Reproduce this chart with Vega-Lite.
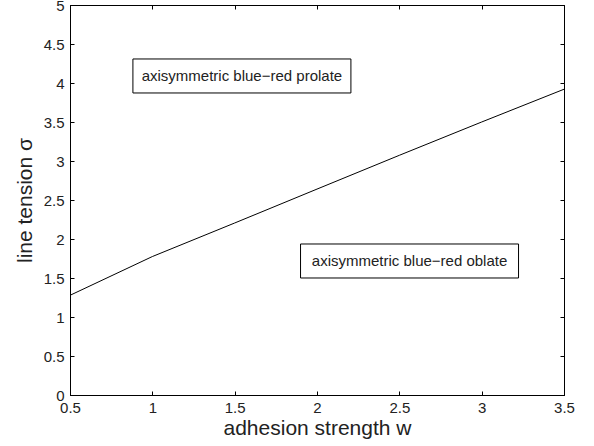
{
  "$schema": "https://vega.github.io/schema/vega-lite/v6.json",
  "width": 494,
  "height": 390,
  "autosize": {"type": "none"},
  "padding": {"left": 70, "top": 5, "right": 30, "bottom": 51},
  "background": "white",
  "config": {
    "font": "Liberation Sans",
    "view": {"stroke": "black", "strokeWidth": 1},
    "axis": {
      "grid": false,
      "domainColor": "black",
      "domainWidth": 1,
      "tickColor": "black",
      "tickWidth": 1,
      "tickSize": -4,
      "labelFlush": false,
      "labelOverlap": false,
      "labelFont": "Liberation Sans",
      "labelFontSize": 15,
      "labelColor": "#222",
      "titleFont": "Liberation Sans",
      "titleFontSize": 21,
      "titleFontWeight": "normal",
      "titleColor": "#222"
    }
  },
  "datasets": {
    "curve": [
      {"w": 0.5, "sigma": 1.278},
      {"w": 1.0, "sigma": 1.775},
      {"w": 1.5, "sigma": 2.205},
      {"w": 2.0, "sigma": 2.64},
      {"w": 2.5, "sigma": 3.073},
      {"w": 3.0, "sigma": 3.50},
      {"w": 3.5, "sigma": 3.92}
    ],
    "regions": [
      {"w": 1.544, "sigma": 4.09, "label": "axisymmetric blue−red prolate"},
      {"w": 2.562, "sigma": 1.718, "label": "axisymmetric blue−red oblate"}
    ]
  },
  "layer": [
    {
      "data": {"name": "curve"},
      "mark": {"type": "line", "color": "black", "strokeWidth": 1},
      "encoding": {
        "x": {
          "field": "w", "type": "quantitative",
          "scale": {"domain": [0.5, 3.5], "nice": false, "zero": false},
          "axis": {
            "orient": "bottom",
            "title": "adhesion strength w",
            "values": [0.5, 1, 1.5, 2, 2.5, 3, 3.5],
            "format": "~g",
            "labelPadding": 9,
            "titlePadding": 2
          }
        },
        "y": {
          "field": "sigma", "type": "quantitative",
          "scale": {"domain": [0, 5], "nice": false, "zero": false},
          "axis": {
            "orient": "left",
            "title": "line tension σ",
            "values": [0, 0.5, 1, 1.5, 2, 2.5, 3, 3.5, 4, 4.5, 5],
            "format": "~g",
            "labelPadding": 10,
            "titlePadding": 8
          }
        }
      }
    },
    {
      "data": {"name": "curve"},
      "mark": {"type": "line", "opacity": 0},
      "encoding": {
        "x": {
          "field": "w", "type": "quantitative",
          "axis": {"orient": "top", "title": null, "labels": false, "values": [0.5, 1, 1.5, 2, 2.5, 3, 3.5]}
        },
        "y": {
          "field": "sigma", "type": "quantitative",
          "axis": {"orient": "right", "title": null, "labels": false, "values": [0, 0.5, 1, 1.5, 2, 2.5, 3, 3.5, 4, 4.5, 5]}
        }
      }
    },
    {
      "data": {"name": "regions"},
      "mark": {"type": "rect", "width": 218, "height": 34, "fill": "white", "stroke": "black", "strokeWidth": 1},
      "encoding": {
        "x": {"field": "w", "type": "quantitative", "axis": null},
        "y": {"field": "sigma", "type": "quantitative", "axis": null}
      }
    },
    {
      "data": {"name": "regions"},
      "mark": {"type": "text", "font": "Liberation Sans", "fontSize": 15, "color": "#222", "align": "center", "baseline": "middle"},
      "encoding": {
        "x": {"field": "w", "type": "quantitative", "axis": null},
        "y": {"field": "sigma", "type": "quantitative", "axis": null},
        "text": {"field": "label"}
      }
    }
  ],
  "resolve": {"axis": {"x": "independent", "y": "independent"}}
}
